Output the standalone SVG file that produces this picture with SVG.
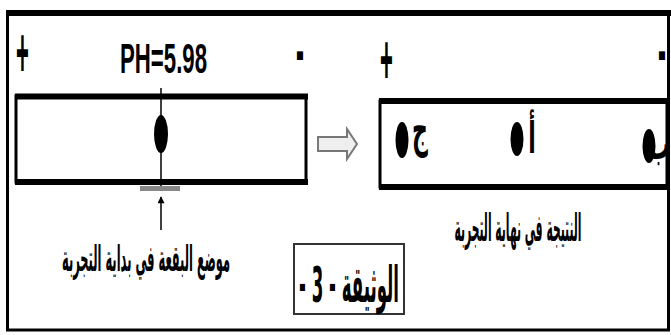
<svg xmlns="http://www.w3.org/2000/svg" width="671" height="335" viewBox="0 0 671 335">
<defs>
<style>
.lat{font-family:"Liberation Sans",Arial,sans-serif;font-weight:bold;fill:#000}
.ar{font-family:"DejaVu Sans","Noto Sans",sans-serif;font-weight:bold;fill:#000}
.box{fill:#fff;stroke:#000}
.spot{fill:#000}
</style>
<marker id="ah" viewBox="0 0 10 10" refX="9" refY="5" markerWidth="12" markerHeight="7" markerUnits="userSpaceOnUse" orient="auto">
<path d="M0,0 L10,5 L0,10 Z" fill="#000"/>
</marker>
</defs>
<rect width="671" height="335" fill="#fff"/>
<g id="frame">
<rect x="7.5" y="13" width="661" height="317" fill="none" stroke="#000" stroke-width="3"/>
<line x1="6" y1="13" x2="671" y2="13" stroke="#000" stroke-width="6"/>
</g>
<g id="start-strip">
<rect class="box" x="16" y="96" width="290" height="86" stroke-width="3"/>
<line x1="15" y1="96.5" x2="308" y2="96.5" stroke="#000" stroke-width="6"/>
<line x1="15" y1="182" x2="308" y2="182" stroke="#000" stroke-width="6"/>
<text class="lat" transform="translate(16,77) scale(1,3.2)" font-size="22">+</text>
<text class="lat" transform="translate(296,74) scale(1,3)" font-size="24">-</text>
<text class="lat" transform="translate(120,73) scale(1,1.95)" font-size="22" textLength="87" lengthAdjust="spacingAndGlyphs">PH=5.98</text>
<ellipse class="spot" cx="161" cy="134" rx="7" ry="19"/>
</g>
<g id="end-strip">
<rect class="box" x="380" y="101" width="287" height="86" stroke-width="3"/>
<line x1="379" y1="101" x2="669" y2="101" stroke="#000" stroke-width="6"/>
<line x1="379" y1="187" x2="669" y2="187" stroke="#000" stroke-width="6"/>
<text class="lat" transform="translate(380,84) scale(1,3.2)" font-size="22">+</text>
<text class="lat" transform="translate(658,74) scale(1,3)" font-size="24">-</text>
<ellipse class="spot" cx="402" cy="140" rx="6.5" ry="18"/>
<text class="ar" transform="translate(420,146) scale(1,2.2)" font-size="22" text-anchor="middle">ج</text>
<ellipse class="spot" cx="517" cy="139" rx="6.5" ry="17"/>
<text class="ar" transform="translate(532,153) scale(1,2)" font-size="22" text-anchor="middle">أ</text>
<ellipse class="spot" cx="649" cy="146" rx="6.5" ry="17"/>
<text class="ar" transform="translate(659,159) scale(1,2)" font-size="22" text-anchor="middle">ب</text>
</g>
<g id="label-start">
<text class="ar" transform="translate(146,271) scale(1,2)" font-size="18" text-anchor="middle" direction="rtl" textLength="168" lengthAdjust="spacingAndGlyphs">موضع البقعة في بداية التجربة</text>
</g>
<g id="label-end">
<text class="ar" transform="translate(518,241) scale(1,2.1)" font-size="18" text-anchor="middle" direction="rtl" textLength="127" lengthAdjust="spacingAndGlyphs">النتيجة في نهاية التجربة</text>
</g>
<g id="doc-label">
<rect x="294" y="244" width="110" height="70" fill="#fff" stroke="#333" stroke-width="2"/>
<text class="ar" transform="translate(349,302) scale(1,2.3)" font-size="22" text-anchor="middle" direction="rtl" textLength="100" lengthAdjust="spacingAndGlyphs">الوثيقة - 3 -</text>
</g>
<g id="connectors">
<line x1="161" y1="88" x2="161" y2="186" stroke="#000" stroke-width="1.5"/>
<rect x="140" y="186" width="40" height="5" fill="#888"/>
<line x1="161" y1="230" x2="161" y2="197" stroke="#000" stroke-width="1.5" marker-end="url(#ah)"/>
<path d="M318,137 L347,137 L347,129 L357,144 L347,159 L347,151 L318,151 Z" fill="#eee" stroke="#777" stroke-width="2"/>
</g>
</svg>
